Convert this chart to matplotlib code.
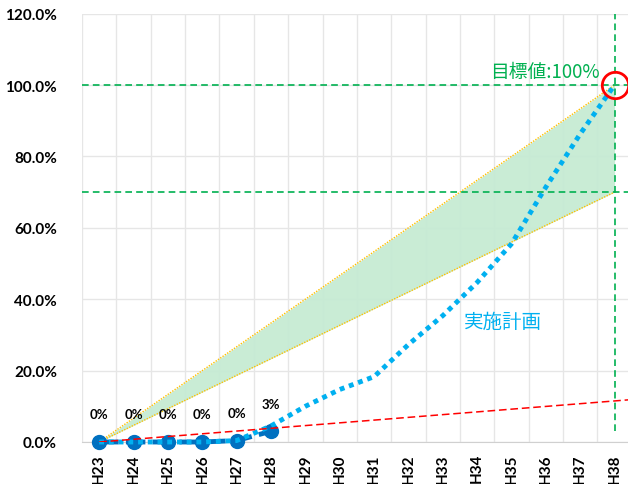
import matplotlib
matplotlib.use("Agg")
import matplotlib.pyplot as plt
import numpy as np

# ---- data ----
categories = ["H23", "H24", "H25", "H26", "H27", "H28", "H29", "H30",
              "H31", "H32", "H33", "H34", "H35", "H36", "H37", "H38"]
actual = [0.0, 0.0, 0.0, 0.0, 0.4, 3.0]
actual_labels = ["0%", "0%", "0%", "0%", "0%", "3%"]
plan = [0.0, 0.0, 0.0, 0.0, 0.4, 4.5, 10.0, 14.7, 18.3, 27.3, 35.4,
        44.7, 55.5, 71.4, 86.3, 100.0]
band_upper_end = 100.0   # band upper edge at H38
band_lower_end = 70.0    # band lower edge at H38
red_end = 11.5           # red dashed line value at H38
target = 100.0
target_low = 70.0
yticks = [0, 20, 40, 60, 80, 100, 120]

# ---- figure ----
W, H = 628, 485
fig = plt.figure(figsize=(W / 100, H / 100), dpi=100)
ax = fig.add_axes([82 / W, 1 - 443 / H, (631.75 - 82) / W, (443 - 14.6) / H])

x = np.arange(len(categories))
n = len(categories) - 1

ax.set_xlim(-0.5, n + 0.5)
ax.set_ylim(0, 120)

# grid
ax.set_yticks(yticks)
ax.set_yticklabels([f"{v:.1f}%" for v in yticks])
ax.set_xticks(x)
ax.set_xticklabels(categories, rotation=90)
ax.set_xticks(np.arange(-0.5, n + 1.0, 1.0), minor=True)
ax.grid(which="minor", axis="x", color="#E6E6E6", lw=1.0, zorder=0)
ax.grid(which="major", axis="y", color="#E6E6E6", lw=1.0, zorder=0)
ax.tick_params(axis="both", which="both", length=0)
ax.tick_params(axis="y", pad=18)
ax.tick_params(axis="x", pad=8)
for s in ["top", "right", "left"]:
    ax.spines[s].set_visible(False)
ax.spines["bottom"].set_color("#D0D0D0")
ax.set_axisbelow(True)

for lab in ax.get_xticklabels() + ax.get_yticklabels():
    lab.set_fontfamily(["Lato", "DejaVu Sans"])
    lab.set_fontweight("bold")
    lab.set_fontsize(11)

# band
bx = [x[0], x[-1]]
ax.fill_between(bx, [0, band_lower_end], [0, band_upper_end],
                color="#C6EBD3", alpha=0.95, lw=0, zorder=1)
ax.plot(bx, [0, band_upper_end], color="#FFC000", lw=1.0,
        ls=(0, (1, 1)), zorder=2)
ax.plot(bx, [0, band_lower_end], color="#FFC000", lw=1.0,
        ls=(0, (1, 1)), zorder=2)

# green target lines
ax.axhline(target, color="#00B050", lw=1.2, ls=(0, (4, 2.5)), zorder=3)
ax.axhline(target_low, color="#00B050", lw=1.2, ls=(0, (4, 2.5)), zorder=3)
ax.plot([x[-1], x[-1]], [3, 120], color="#00B050", lw=1.2,
        ls=(0, (4, 2.5)), zorder=3)

# actual series
xa = x[:len(actual)]
ax.plot(xa, actual, color="#0070C0", lw=3.5, ls=(0, (4, 1.5)),
        marker="o", markersize=10, markerfacecolor="#0070C0",
        markeredgecolor="#0070C0", zorder=5, clip_on=False)
for xi, yi, lab in zip(xa, actual, actual_labels):
    ax.annotate(lab, (xi, yi), xytext=(0, 20), textcoords="offset points",
                ha="center", va="center", fontsize=9.5, fontweight="bold",
                family=["Lato", "DejaVu Sans"], color="#000000", zorder=7)

# plan series
ax.plot(x, plan, color="#00B0F0", lw=3.5, ls=(0, (1, 1)),
        dash_capstyle="butt", zorder=6, clip_on=False)

# red dashed line (extends to the right edge)
xr = [x[0], n + 0.6]
ax.plot(xr, [0, red_end * (n + 0.6) / n], color="#FF0000", lw=1.1,
        ls=(0, (5, 2.5)), zorder=6, clip_on=True)

# red circle at target
ax.plot([x[-1]], [target], marker="o", markersize=19, markerfacecolor="none",
        markeredgecolor="#FF0000", markeredgewidth=2.0, zorder=8,
        clip_on=False)

# annotations
jp = ["Noto Sans CJK JP", "DejaVu Sans"]
ax.text(12.96, 103.9, "目標値:100%", color="#00B050", fontsize=13.5,
        family=jp, ha="center", va="center", zorder=9)
ax.text(11.74, 33.9, "実施計画", color="#00B0F0", fontsize=14,
        family=jp, ha="center", va="center", zorder=9)

fig.savefig("out.png", dpi=100)
